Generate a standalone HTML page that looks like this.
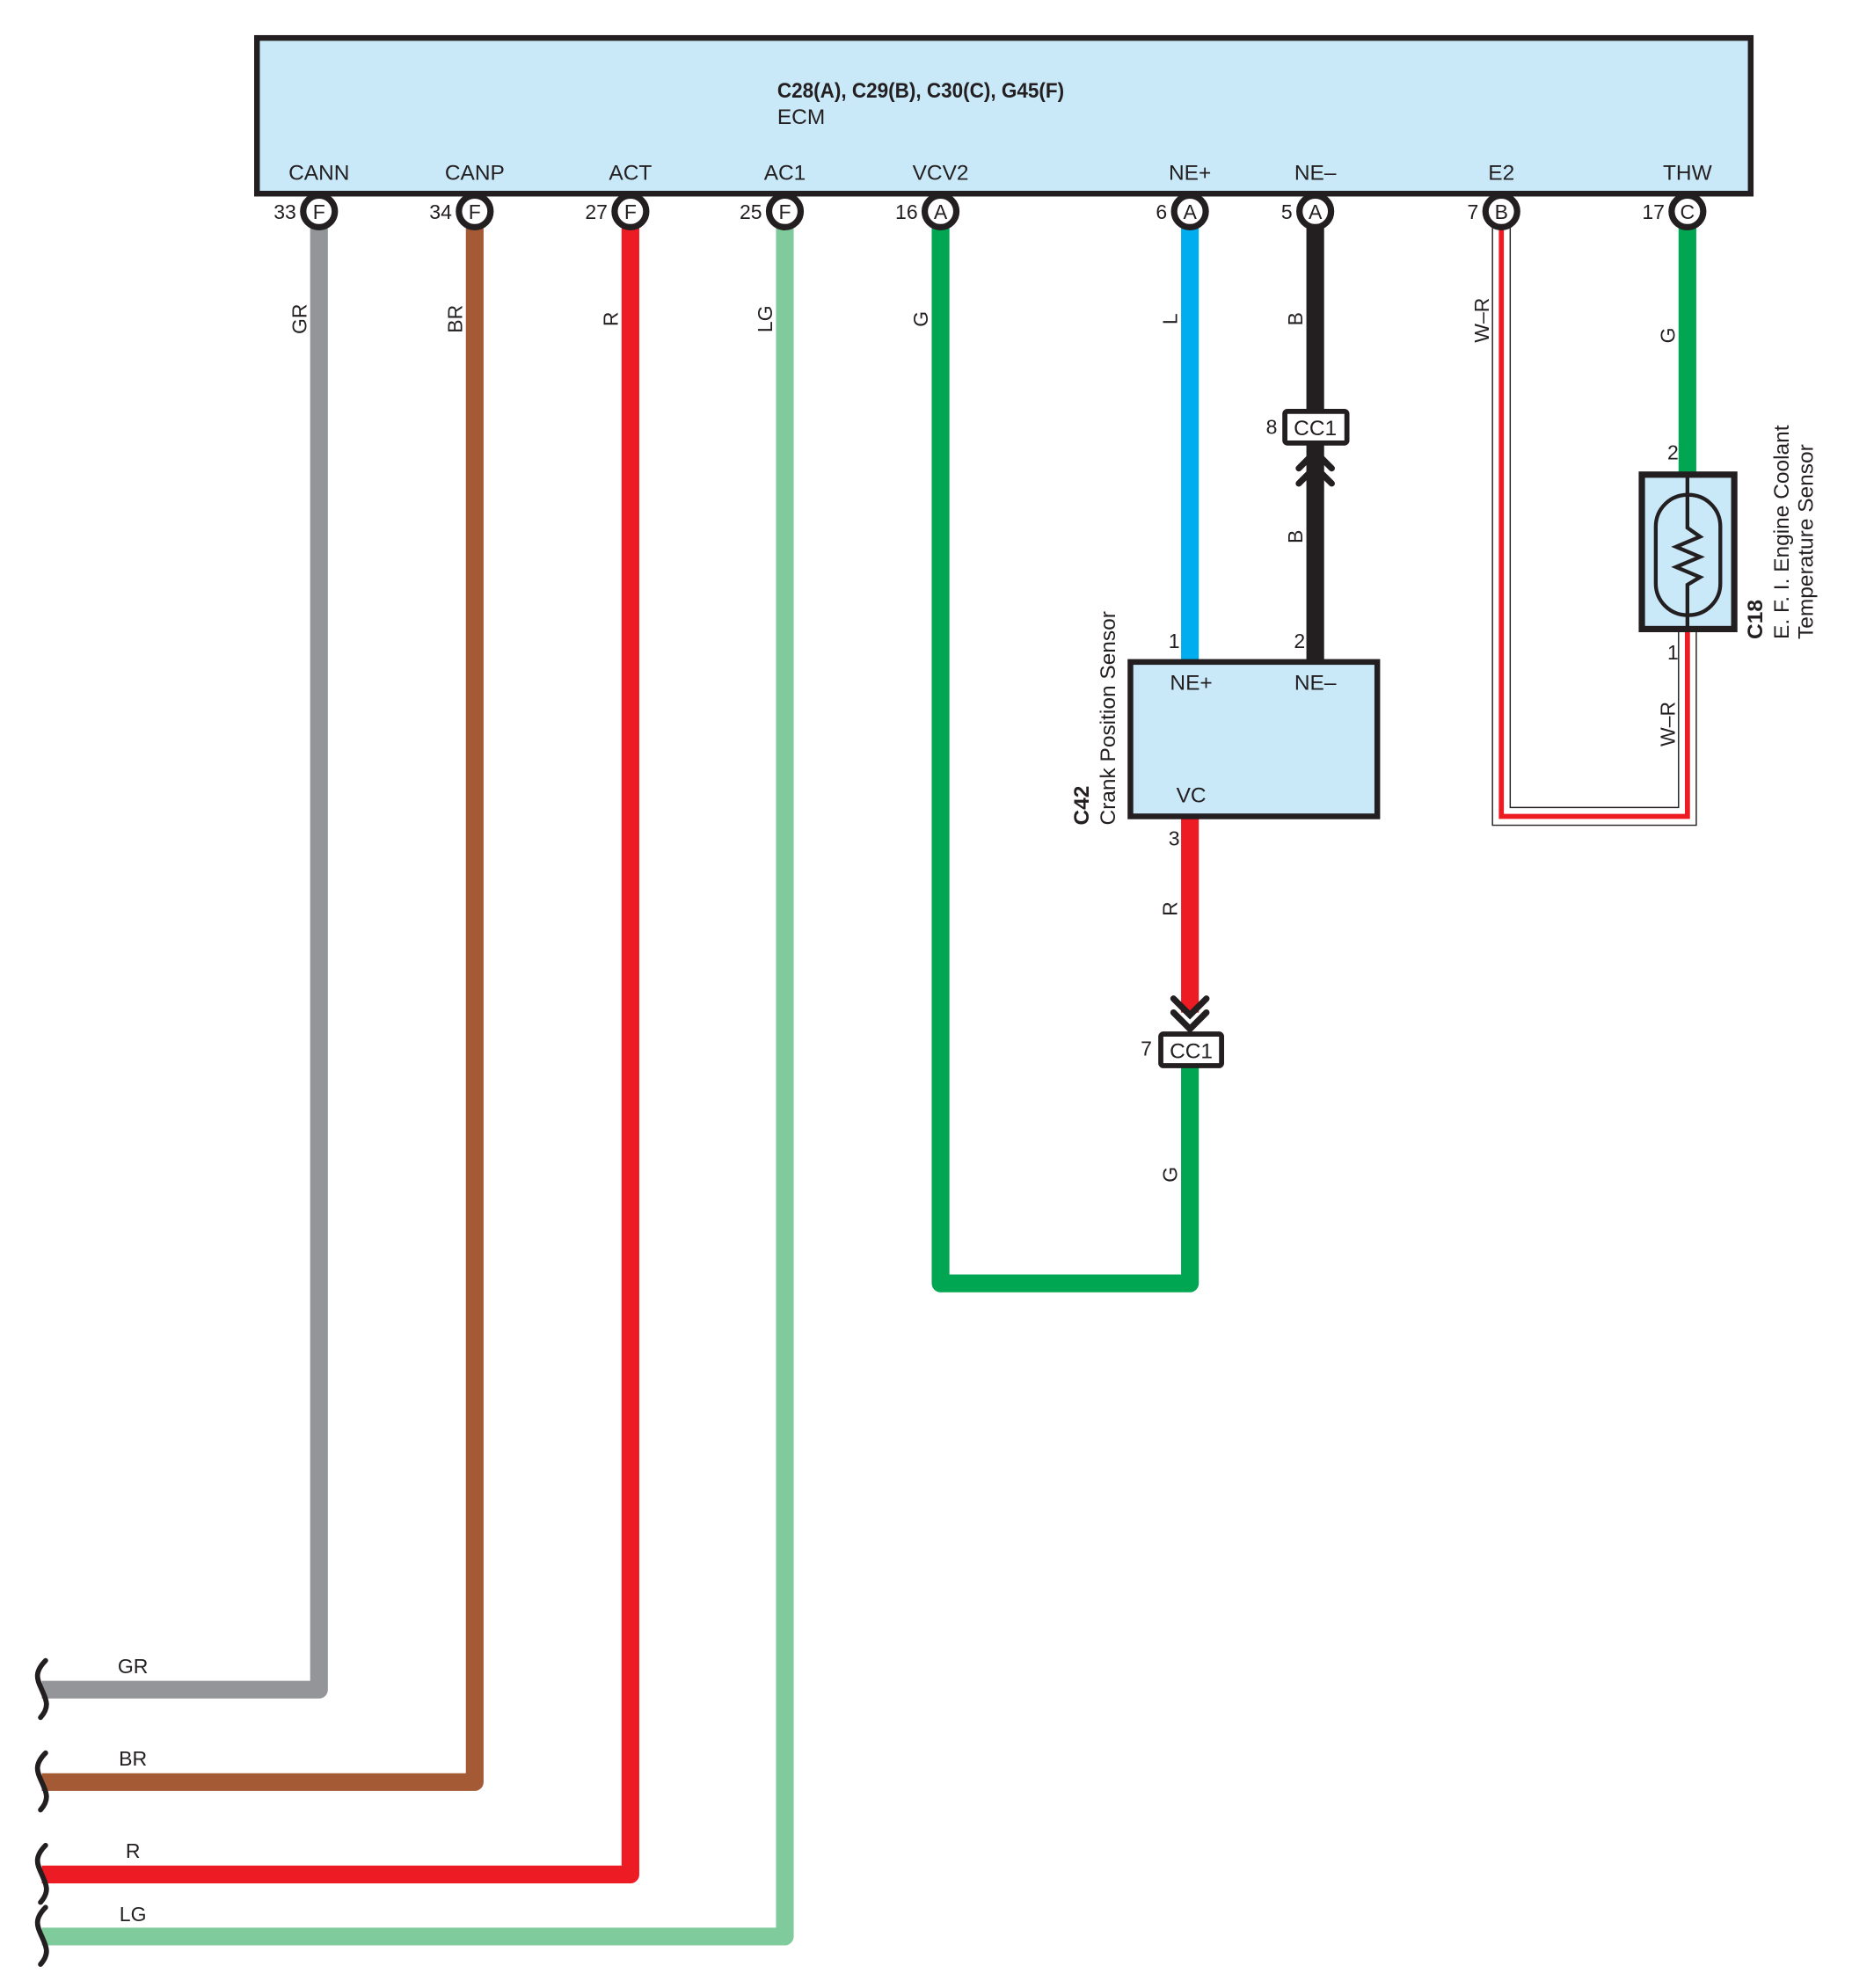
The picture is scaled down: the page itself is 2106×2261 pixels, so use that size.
<!DOCTYPE html>
<html><head><meta charset="utf-8"><style>html,body{margin:0;padding:0;background:#fff}svg{display:block}</style></head>
<body>
<svg width="2106" height="2261" viewBox="0 0 1463 1570.7" xmlns="http://www.w3.org/2000/svg" font-family="Liberation Sans, sans-serif">
<g fill="none" stroke-width="14" stroke-linejoin="round" stroke-linecap="butt">
<path d="M252 180 V1335 H33" stroke="#939598"/>
<path d="M375 180 V1408 H33" stroke="#a45a34"/>
<path d="M498 180 V1481 H33" stroke="#ed1c24"/>
<path d="M620 180 V1530 H33" stroke="#80cb9c"/>
<path d="M743 180 V1014 H940 V843" stroke="#00a651"/>
<path d="M940 180 V522" stroke="#00aeef"/>
<path d="M1039 180 V324 M1039 351 V522" stroke="#231f20"/>
<path d="M940 646 V800" stroke="#ed1c24"/>
<path d="M1333 180 V375" stroke="#00a651"/>
</g>
<path d="M1186 180 V645 H1333 V497" fill="none" stroke="#231f20" stroke-width="15"/>
<path d="M1186 180 V645 H1333 V497" fill="none" stroke="#fff" stroke-width="13"/>
<path d="M1186 180 V645 H1333 V497" fill="none" stroke="#ed1c24" stroke-width="4"/>
<rect x="1170" y="150" width="40" height="30" fill="#fff"/>
<rect x="203" y="30" width="1180" height="123" fill="#c9e8f8" stroke="#231f20" stroke-width="4.5"/>
<text x="614" y="77" font-size="17" font-weight="bold" fill="#231f20" transform="translate(614 0) scale(0.92 1) translate(-614 0)">C28(A), C29(B), C30(C), G45(F)</text>
<text x="614" y="98" font-size="17" fill="#231f20">ECM</text>
<g font-size="17" fill="#231f20" text-anchor="middle">
<text x="252" y="142">CANN</text><text x="375" y="142">CANP</text><text x="498" y="142">ACT</text><text x="620" y="142">AC1</text><text x="743" y="142">VCV2</text><text x="940" y="142">NE+</text><text x="1039" y="142">NE–</text><text x="1186" y="142">E2</text><text x="1333" y="142">THW</text>
</g>
<g stroke="#231f20" stroke-width="5" fill="#fff">
<circle cx="252" cy="167" r="12.5"/><circle cx="375" cy="167" r="12.5"/><circle cx="498" cy="167" r="12.5"/><circle cx="620" cy="167" r="12.5"/><circle cx="743" cy="167" r="12.5"/><circle cx="940" cy="167" r="12.5"/><circle cx="1039" cy="167" r="12.5"/><circle cx="1186" cy="167" r="12.5"/><circle cx="1333" cy="167" r="12.5"/>
</g>
<g font-size="16" fill="#231f20" text-anchor="middle">
<text x="252" y="173">F</text><text x="375" y="173">F</text><text x="498" y="173">F</text><text x="620" y="173">F</text><text x="743" y="173">A</text><text x="940" y="173">A</text><text x="1039" y="173">A</text><text x="1186" y="173">B</text><text x="1333" y="173">C</text>
</g>
<g font-size="16" fill="#231f20" text-anchor="end">
<text x="234" y="173">33</text><text x="357" y="173">34</text><text x="480" y="173">27</text><text x="602" y="173">25</text><text x="725" y="173">16</text><text x="922" y="173">6</text><text x="1021" y="173">5</text><text x="1168" y="173">7</text><text x="1315" y="173">17</text>
<text x="1009" y="343">8</text><text x="910" y="834">7</text>
<text x="932" y="512">1</text><text x="1031" y="512">2</text><text x="932" y="668">3</text>
<text x="1326" y="363">2</text><text x="1326" y="521">1</text>
</g>
<g font-size="16" fill="#231f20" text-anchor="middle">
<text transform="translate(242 252) rotate(-90)">GR</text>
<text transform="translate(365 252) rotate(-90)">BR</text>
<text transform="translate(488 252) rotate(-90)">R</text>
<text transform="translate(610 252) rotate(-90)">LG</text>
<text transform="translate(733 252) rotate(-90)">G</text>
<text transform="translate(930 252) rotate(-90)">L</text>
<text transform="translate(1029 252) rotate(-90)">B</text>
<text transform="translate(1029 424) rotate(-90)">B</text>
<text transform="translate(1176 253) rotate(-90)">W–R</text>
<text transform="translate(1323 265) rotate(-90)">G</text>
<text transform="translate(1323 572) rotate(-90)">W–R</text>
<text transform="translate(930 718) rotate(-90)">R</text>
<text transform="translate(930 928) rotate(-90)">G</text>
<text x="105" y="1322">GR</text><text x="105" y="1395">BR</text><text x="105" y="1468">R</text><text x="105" y="1518">LG</text>
</g>
<g fill="none" stroke="#231f20" stroke-width="4" stroke-linecap="round">
<path d="M36 1312 C26 1322 30 1328 33 1335 C36 1342 40 1348 32 1357"/>
<path d="M36 1385 C26 1395 30 1401 33 1408 C36 1415 40 1421 32 1430"/>
<path d="M36 1458 C26 1468 30 1474 33 1481 C36 1488 40 1494 32 1503"/>
<path d="M36 1507 C26 1517 30 1523 33 1530 C36 1537 40 1543 32 1552"/>
</g>
<rect x="1015" y="325" width="49" height="25" rx="2" fill="#fff" stroke="#231f20" stroke-width="4"/>
<text x="1039" y="344" font-size="17" fill="#231f20" text-anchor="middle">CC1</text>
<g fill="none" stroke="#231f20" stroke-width="5" stroke-linecap="round">
<path d="M1026 370 L1039 357 L1052 370"/><path d="M1026 382 L1039 369 L1052 382"/>
<path d="M927 789 L940 802 L953 789"/><path d="M927 800 L940 813 L953 800"/>
</g>
<rect x="917" y="817" width="48" height="25" rx="2" fill="#fff" stroke="#231f20" stroke-width="4"/>
<text x="941" y="836" font-size="17" fill="#231f20" text-anchor="middle">CC1</text>
<rect x="893" y="523" width="195" height="122" fill="#c9e8f8" stroke="#231f20" stroke-width="4.5"/>
<g font-size="17" fill="#231f20" text-anchor="middle"><text x="941" y="545">NE+</text><text x="1039" y="545">NE–</text><text x="941" y="634">VC</text></g>
<text transform="translate(860 652) rotate(-90)" font-size="17" font-weight="bold" fill="#231f20">C42</text>
<text transform="translate(881 652) rotate(-90)" font-size="17" fill="#231f20">Crank Position Sensor</text>
<rect x="1297" y="375" width="73" height="122" fill="#c9e8f8" stroke="#231f20" stroke-width="5"/>
<rect x="1308" y="391" width="51" height="95" rx="25" fill="none" stroke="#231f20" stroke-width="3"/>
<path d="M1333 377 V417 L1343 424 L1324 432 L1343 440 L1324 448 L1343 456 L1333 462 V495" fill="none" stroke="#231f20" stroke-width="3"/>
<text transform="translate(1392 505) rotate(-90)" font-size="17" font-weight="bold" fill="#231f20">C18</text>
<text transform="translate(1413 505) rotate(-90)" font-size="17" fill="#231f20">E. F. I.  Engine Coolant</text>
<text transform="translate(1432 505) rotate(-90)" font-size="17" fill="#231f20">Temperature Sensor</text>
</svg>
</body></html>
